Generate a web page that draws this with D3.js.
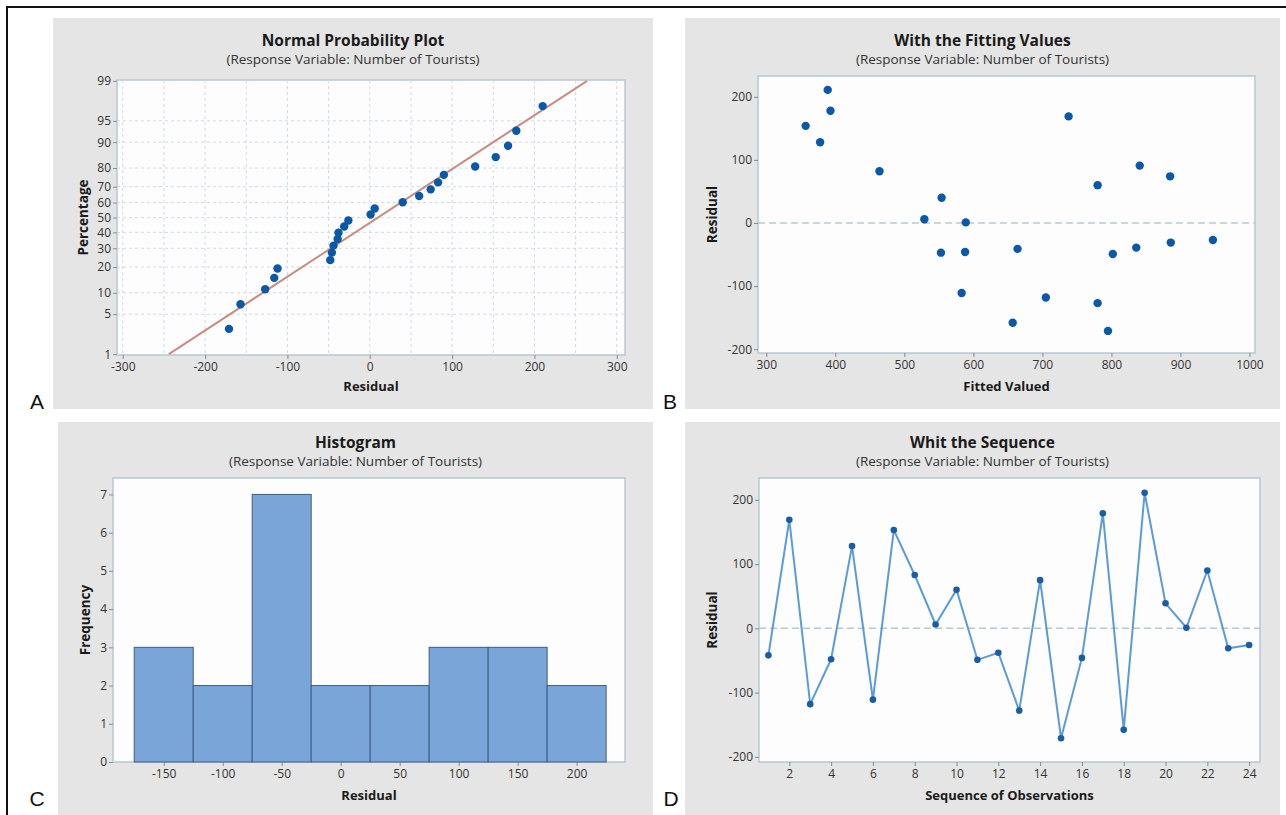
<!DOCTYPE html>
<html>
<head>
<meta charset="utf-8">
<script src="https://cdn.jsdelivr.net/npm/d3@7"></script>
<style>
  body { margin: 0; background: #fff; }
  svg { display: block; font-family: "Open Sans", "Noto Sans", sans-serif; }
  .tick text { fill: #333; }
  .tick line { stroke: #8a8a8a; }
  .domain { display: none; }
</style>
</head>
<body>
<svg id="chart" width="1286" height="815"></svg>
<script>
// ---- data ----
var npResidual = [-171, -157, -127, -116, -112, -48, -46, -44, -39, -38, -31, -26,
                  1, 6, 40, 60, 74, 83, 90, 128, 153, 168, 178, 210];
var npPercent = [2.9, 7.0, 11.1, 15.2, 19.3, 23.4, 27.5, 31.6, 35.7, 39.8, 43.9, 48.0,
                 52.0, 56.1, 60.2, 64.3, 68.4, 72.5, 76.6, 80.7, 84.8, 88.9, 93.0, 97.1];
var npFitLine = [[-244, 1], [264, 99]];
var percentTicks = [1, 5, 10, 20, 30, 40, 50, 60, 70, 80, 90, 95, 99];

var fitValues = [389, 393, 357, 378, 738, 464, 841, 885, 780, 554, 529, 589,
                 947, 886, 836, 664, 553, 588, 802, 583, 705, 780, 657, 795];
var fitResiduals = [211, 178, 154, 128, 169, 82, 91, 74, 60, 40, 6, 1,
                    -27, -31, -39, -41, -47, -46, -49, -111, -118, -127, -158, -171];

var histMid = [-150, -100, -50, 0, 50, 100, 150, 200];
var histCount = [3, 2, 7, 2, 2, 3, 3, 2];
var histWidth = 50;

var seqResidual = [-42, 169, -118, -48, 128, -111, 153, 83, 6, 60, -49, -38,
                   -128, 75, -171, -46, 179, -158, 211, 39, 1, 90, -31, -26];

var subtitle = '(Response Variable: Number of Tourists)';

var svg = d3.select('#chart');
var dotColor = '#0b57a8';
var fmt = function(d) { return String(d); };

// inverse normal cdf (Acklam) for the probability axis
function probit(p) {
  var a = [-39.69683028665376, 220.9460984245205, -275.9285104469687, 138.3577518672690, -30.66479806614716, 2.506628277459239];
  var b = [-54.47609879822406, 161.5858368580409, -155.6989798598866, 66.80131188771972, -13.28068155288572];
  var c = [-0.007784894002430293, -0.3223964580411365, -2.400758277161838, -2.549732539343734, 4.374664141464968, 2.938163982698783];
  var dd = [0.007784695709041462, 0.3224671290700398, 2.445134137142996, 3.754408661907416];
  var q, r;
  if (p < 0.02425) {
    q = Math.sqrt(-2 * Math.log(p));
    return (((((c[0]*q+c[1])*q+c[2])*q+c[3])*q+c[4])*q+c[5]) / ((((dd[0]*q+dd[1])*q+dd[2])*q+dd[3])*q+1);
  } else if (p > 1 - 0.02425) {
    q = Math.sqrt(-2 * Math.log(1 - p));
    return -(((((c[0]*q+c[1])*q+c[2])*q+c[3])*q+c[4])*q+c[5]) / ((((dd[0]*q+dd[1])*q+dd[2])*q+dd[3])*q+1);
  }
  q = p - 0.5; r = q * q;
  return (((((a[0]*r+a[1])*r+a[2])*r+a[3])*r+a[4])*r+a[5])*q / (((((b[0]*r+b[1])*r+b[2])*r+b[3])*r+b[4])*r+1);
}

// outer frame
svg.append('path')
   .attr('d', 'M7,815V7H1286')
   .attr('fill', 'none')
   .attr('stroke', '#111')
   .attr('stroke-width', 2);

function panel(opt) {
  var g = svg.append('g');
  g.append('rect')
   .attr('x', opt.bg[0]).attr('y', opt.bg[1])
   .attr('width', opt.bg[2] - opt.bg[0]).attr('height', opt.bg[3] - opt.bg[1])
   .attr('fill', '#e5e5e5');
  g.append('rect')
   .attr('x', opt.plot[0]).attr('y', opt.plot[1])
   .attr('width', opt.plot[2] - opt.plot[0]).attr('height', opt.plot[3] - opt.plot[1])
   .attr('fill', '#fdfdfe')
   .attr('stroke', '#b7c7d2')
   .attr('stroke-width', 1.5);
  var cx = (opt.bg[0] + opt.bg[2]) / 2;
  g.append('text')
   .attr('x', cx).attr('y', opt.titleY)
   .attr('text-anchor', 'middle')
   .style('font-size', '15.5px').style('font-weight', 'bold').style('fill', '#1a1a1a')
   .text(opt.title);
  g.append('text')
   .attr('x', cx).attr('y', opt.titleY + 18)
   .attr('text-anchor', 'middle')
   .style('font-size', '13.5px').style('fill', '#333')
   .text(subtitle);
  g.append('text')
   .attr('x', (opt.plot[0] + opt.plot[2]) / 2).attr('y', opt.xLabelY)
   .attr('text-anchor', 'middle')
   .style('font-size', '13px').style('font-weight', 'bold').style('fill', '#1a1a1a')
   .text(opt.xLabel);
  g.append('text')
   .attr('transform', 'translate(' + opt.yLabelX + ',' + (opt.plot[1] + opt.plot[3]) / 2 + ') rotate(-90)')
   .attr('text-anchor', 'middle')
   .style('font-size', '13.5px').style('font-weight', 'bold').style('fill', '#1a1a1a')
   .text(opt.yLabel);
  svg.append('text')
     .attr('x', opt.letter[1]).attr('y', opt.letter[2])
     .attr('text-anchor', 'middle')
     .style('font-family', '"Liberation Sans", Arial, sans-serif')
     .style('font-size', '21px').style('fill', '#111')
     .text(opt.letter[0]);
  return g;
}

function styleAxis(sel) {
  sel.attr('font-size', 12).attr('font-family', null);
}

function drawAxes(g, x, y, plot, xTicks, yTicks) {
  g.append('g')
   .attr('transform', 'translate(0,' + plot[3] + ')')
   .call(d3.axisBottom(x).tickValues(xTicks).tickSize(4).tickPadding(3).tickFormat(fmt))
   .call(styleAxis);
  g.append('g')
   .attr('transform', 'translate(' + plot[0] + ',0)')
   .call(d3.axisLeft(y).tickValues(yTicks).tickSize(4).tickPadding(2).tickFormat(fmt))
   .call(styleAxis);
}

// ---- A: normal probability plot ----
(function() {
  var plot = [117, 80, 625, 355];
  var g = panel({ bg: [53, 18, 653, 409], plot: plot, titleY: 46,
                  title: 'Normal Probability Plot', xLabel: 'Residual', xLabelY: 391,
                  yLabel: 'Percentage', yLabelX: 88, letter: ['A', 37, 409] });
  var x = d3.scaleLinear().domain([-307, 310]).range([plot[0], plot[2]]);
  var z = d3.scaleLinear().domain([-2.34, 2.34]).range([plot[3], plot[1]]);
  var y = function(p) { return z(probit(p / 100)); };

  var grid = g.append('g').attr('stroke', '#cddbe6').attr('stroke-dasharray', '3,3');
  grid.selectAll('.vx').data(d3.range(-300, 301, 50)).enter().append('line')
      .attr('x1', x).attr('x2', x).attr('y1', plot[1]).attr('y2', plot[3]);
  grid.selectAll('.hy').data(percentTicks.slice(1, -1)).enter().append('line')
      .attr('x1', plot[0]).attr('x2', plot[2]).attr('y1', y).attr('y2', y);

  g.append('g')
   .attr('transform', 'translate(0,' + plot[3] + ')')
   .call(d3.axisBottom(x).tickValues(d3.range(-300, 301, 100)).tickSize(4).tickPadding(3).tickFormat(fmt))
   .call(styleAxis);
  // probability axis: d3 axis on the z scale, labelled with percentages
  g.append('g')
   .attr('transform', 'translate(' + plot[0] + ',0)')
   .call(d3.axisLeft(z).tickValues(percentTicks.map(function(p) { return probit(p / 100); }))
         .tickSize(4).tickPadding(2)
         .tickFormat(function(d, i) { return String(percentTicks[i]); }))
   .call(styleAxis);

  g.append('line')
   .attr('x1', x(npFitLine[0][0])).attr('y1', y(npFitLine[0][1]))
   .attr('x2', x(npFitLine[1][0])).attr('y2', y(npFitLine[1][1]))
   .attr('stroke', '#c98d84').attr('stroke-width', 2);

  g.selectAll('.pt').data(npResidual).enter().append('circle')
   .attr('cx', function(d) { return x(d); })
   .attr('cy', function(d, i) { return y(npPercent[i]); })
   .attr('r', 4.2).attr('fill', dotColor);
})();

// ---- B: residuals vs fitted ----
(function() {
  var plot = [758, 76, 1255, 353];
  var g = panel({ bg: [685, 18, 1280, 409], plot: plot, titleY: 46,
                  title: 'With the Fitting Values', xLabel: 'Fitted Valued', xLabelY: 391,
                  yLabel: 'Residual', yLabelX: 717, letter: ['B', 670, 409] });
  var x = d3.scaleLinear().domain([288, 1008]).range([plot[0], plot[2]]);
  var y = d3.scaleLinear().domain([-206, 233]).range([plot[3], plot[1]]);
  drawAxes(g, x, y, plot, d3.range(300, 1001, 100), [-200, -100, 0, 100, 200]);
  g.append('line')
   .attr('x1', plot[0]).attr('x2', plot[2]).attr('y1', y(0)).attr('y2', y(0))
   .attr('stroke', '#b3cad5').attr('stroke-width', 1.5).attr('stroke-dasharray', '7,4');
  g.selectAll('.pt').data(fitValues).enter().append('circle')
   .attr('cx', function(d) { return x(d); })
   .attr('cy', function(d, i) { return y(fitResiduals[i]); })
   .attr('r', 4.2).attr('fill', dotColor);
})();

// ---- C: histogram ----
(function() {
  var plot = [113, 478, 625, 762];
  var g = panel({ bg: [58, 422, 653, 815], plot: plot, titleY: 448,
                  title: 'Histogram', xLabel: 'Residual', xLabelY: 800,
                  yLabel: 'Frequency', yLabelX: 90, letter: ['C', 37, 806] });
  var x = d3.scaleLinear().domain([-193, 241]).range([plot[0], plot[2]]);
  var y = d3.scaleLinear().domain([0, 7.43]).range([plot[3], plot[1]]);
  drawAxes(g, x, y, plot, histMid, d3.range(0, 8));
  g.selectAll('.bar').data(histMid).enter().append('rect')
   .attr('x', function(d) { return x(d - histWidth / 2); })
   .attr('width', function(d) { return x(d + histWidth / 2) - x(d - histWidth / 2); })
   .attr('y', function(d, i) { return y(histCount[i]); })
   .attr('height', function(d, i) { return y(0) - y(histCount[i]); })
   .attr('fill', '#79a5d8').attr('stroke', '#3e5d80').attr('stroke-width', 1);
})();

// ---- D: residuals vs order ----
(function() {
  var plot = [759, 478, 1260, 762];
  var g = panel({ bg: [685, 422, 1280, 815], plot: plot, titleY: 448,
                  title: 'Whit the Sequence', xLabel: 'Sequence of Observations', xLabelY: 800,
                  yLabel: 'Residual', yLabelX: 717, letter: ['D', 671, 806] });
  var x = d3.scaleLinear().domain([0.55, 24.52]).range([plot[0], plot[2]]);
  var y = d3.scaleLinear().domain([-208, 234]).range([plot[3], plot[1]]);
  drawAxes(g, x, y, plot, d3.range(2, 25, 2), [-200, -100, 0, 100, 200]);
  g.append('line')
   .attr('x1', plot[0]).attr('x2', plot[2]).attr('y1', y(0)).attr('y2', y(0))
   .attr('stroke', '#b3cad5').attr('stroke-width', 1.5).attr('stroke-dasharray', '7,4');
  var line = d3.line()
               .x(function(d, i) { return x(i + 1); })
               .y(function(d) { return y(d); });
  g.append('path').datum(seqResidual)
   .attr('d', line).attr('fill', 'none')
   .attr('stroke', '#5b9bd8').attr('stroke-width', 2);
  g.selectAll('.pt').data(seqResidual).enter().append('circle')
   .attr('cx', function(d, i) { return x(i + 1); })
   .attr('cy', function(d) { return y(d); })
   .attr('r', 3.3).attr('fill', '#1a5da5');
})();
</script>
</body>
</html>
